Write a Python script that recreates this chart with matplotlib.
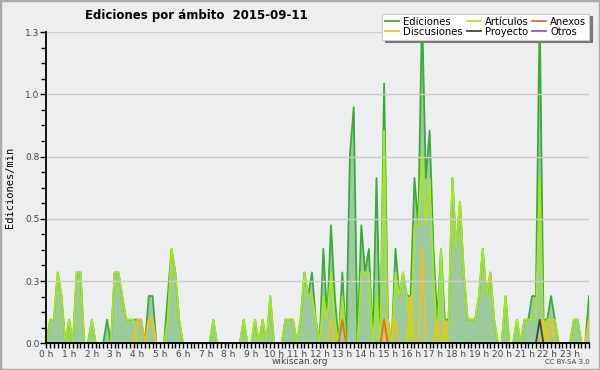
import numpy as np
import matplotlib.pyplot as plt
from matplotlib.patches import Rectangle

# edits per 10 minute bin (144 bins, 00:00 -> 23:50)
ediciones = [0, 1, 1, 3, 2, 0, 1, 0, 3, 3, 0, 0,
             1, 0, 0, 0, 1, 0, 3, 3, 2, 1, 1, 1,
             1, 1, 0, 2, 2, 0, 0, 0, 2, 4, 3, 1,
             0, 0, 0, 0, 0, 0, 0, 0, 1, 0, 0, 0,
             0, 0, 0, 0, 1, 0, 0, 1, 0, 1, 0, 2,
             0, 0, 0, 1, 1, 1, 0, 1, 3, 2, 3, 1,
             0, 4, 1, 5, 2, 0, 3, 0, 8, 10, 0, 5,
             3, 4, 0, 7, 0, 11, 1, 0, 4, 2, 3, 2,
             2, 7, 5, 14, 7, 9, 4, 1, 4, 1, 1, 7,
             4, 6, 3, 1, 1, 1, 2, 4, 2, 3, 1, 0,
             0, 2, 0, 0, 1, 0, 1, 1, 2, 2, 14, 1,
             1, 2, 1, 0, 0, 0, 0, 1, 1, 0, 0, 2]
articulos = [0, 1, 1, 3, 2, 0, 1, 0, 3, 3, 0, 0,
             1, 0, 0, 0, 0, 0, 3, 3, 2, 1, 1, 1,
             0, 0, 0, 1, 1, 0, 0, 0, 1, 4, 3, 1,
             0, 0, 0, 0, 0, 0, 0, 0, 1, 0, 0, 0,
             0, 0, 0, 0, 1, 0, 0, 1, 0, 1, 0, 2,
             0, 0, 0, 1, 1, 1, 0, 1, 3, 2, 2, 1,
             0, 2, 1, 3, 1, 0, 2, 0, 0, 0, 0, 3,
             3, 3, 0, 2, 0, 9, 0, 0, 3, 2, 3, 2,
             0, 5, 5, 8, 5, 7, 3, 0, 4, 0, 1, 7,
             4, 6, 3, 1, 1, 1, 2, 4, 2, 3, 1, 0,
             0, 2, 0, 0, 1, 0, 1, 1, 1, 1, 7, 0,
             1, 1, 1, 0, 0, 0, 0, 1, 1, 0, 0, 1]
# sparse series: {bin index: edits}
discusiones = {24: 1, 25: 1, 27: 1, 28: 1, 75: 1, 90: 1, 92: 1, 96: 2,
               99: 4, 103: 1, 105: 1, 131: 1, 133: 1, 143: 1}
anexos = {78: 1, 89: 1}
proyecto = {130: 1}
otros = {}

per_bin = 0.0948  # edits/min shown for one edit in a bin

hour_labels = [f"{h} h" for h in range(24)]
y_ticks = [0, 0.25, 0.5, 0.75, 1.0, 1.25]
y_labels = ["0.0", "0.3", "0.5", "0.8", "1.0", "1.3"]

bg = "#edeef0"
n = len(ediciones)
hours = np.arange(n) / 6


def dense(d):
    v = np.zeros(n)
    for k, c in d.items():
        v[k] = c
    return v


fig = plt.figure(figsize=(6, 3.7), dpi=100, facecolor=bg)
ax = fig.add_axes([0.0772, 0.0722, 0.9045, 0.8413], facecolor=bg)

tot = np.array(ediciones) * per_bin
ax.fill_between(hours, tot, color="#9ecb9e", lw=0, zorder=1)

series = [
    ("Ediciones", tot, "#3aaa3a"),
    ("Artículos", np.array(articulos) * per_bin, "#a8e81a"),
    ("Discusiones", dense(discusiones) * per_bin, "#f2c11c"),
    ("Anexos", dense(anexos) * per_bin, "#ee6a22"),
    ("Proyecto", dense(proyecto) * per_bin, "#444444"),
    ("Otros", dense(otros) * per_bin, "#9a4ef0"),
]
handles = {}
for name, vals, col in series:
    ln, = ax.plot(hours, vals, color=col, lw=1.3, zorder=2)
    handles[name] = ln

ax.set_xlim(0, hours[-1])
ax.set_ylim(0, 1.25)
ax.set_xticks(range(24))
ax.set_xticklabels(hour_labels)
ax.set_xticks(hours, minor=True)
ax.set_yticks(y_ticks)
ax.set_yticklabels(y_labels)
ax.set_yticks(np.arange(0, 1.26, 0.0625), minor=True)
ax.tick_params(which="both", direction="out", length=3.5, width=1,
               color="black", labelsize=6.5, labelcolor="#444444", pad=1)
ax.tick_params(axis="y", which="major", length=4)
ax.grid(axis="y", color="#cccccc", lw=1)
ax.set_axisbelow(False)
for s in ["top", "right"]:
    ax.spines[s].set_visible(False)
for s in ["left", "bottom"]:
    ax.spines[s].set_linewidth(1.3)
    ax.spines[s].set_zorder(5)

ax.set_ylabel("Ediciones/min", family="DejaVu Sans Mono", fontsize=7.5,
              labelpad=7)

order = ["Ediciones", "Discusiones", "Artículos", "Proyecto", "Anexos", "Otros"]
leg = ax.legend([handles[k] for k in order], order, ncol=3,
                loc="upper right", bbox_to_anchor=(1.01, 1.075),
                fontsize=7.2, handlelength=1.4, handletextpad=0.4,
                columnspacing=0.4, labelspacing=0.0, borderpad=0.3,
                fancybox=False, framealpha=1, edgecolor="#cccccc",
                shadow={"color": "#777777", "alpha": 1})
leg.get_frame().set_linewidth(0.8)
leg.set_zorder(10)

fig.text(85 / 600, 1 - 16 / 370, "Ediciones por ámbito  2015-09-11",
         fontsize=8.5, fontweight="bold", ha="left", va="center")
fig.text(0.5, 1 - 362 / 370, "wikiscan.org", fontsize=6.5,
         color="#444444", ha="center", va="center")
fig.text(590 / 600, 1 - 362 / 370, "CC BY-SA 3.0", fontsize=5,
         color="#444444", ha="right", va="center")

fig.patches.append(Rectangle((0, 0), 1, 1, transform=fig.transFigure,
                             fill=False, edgecolor="#aaaaaa", lw=2.5))

fig.savefig("out.png", dpi=100, facecolor=bg)
